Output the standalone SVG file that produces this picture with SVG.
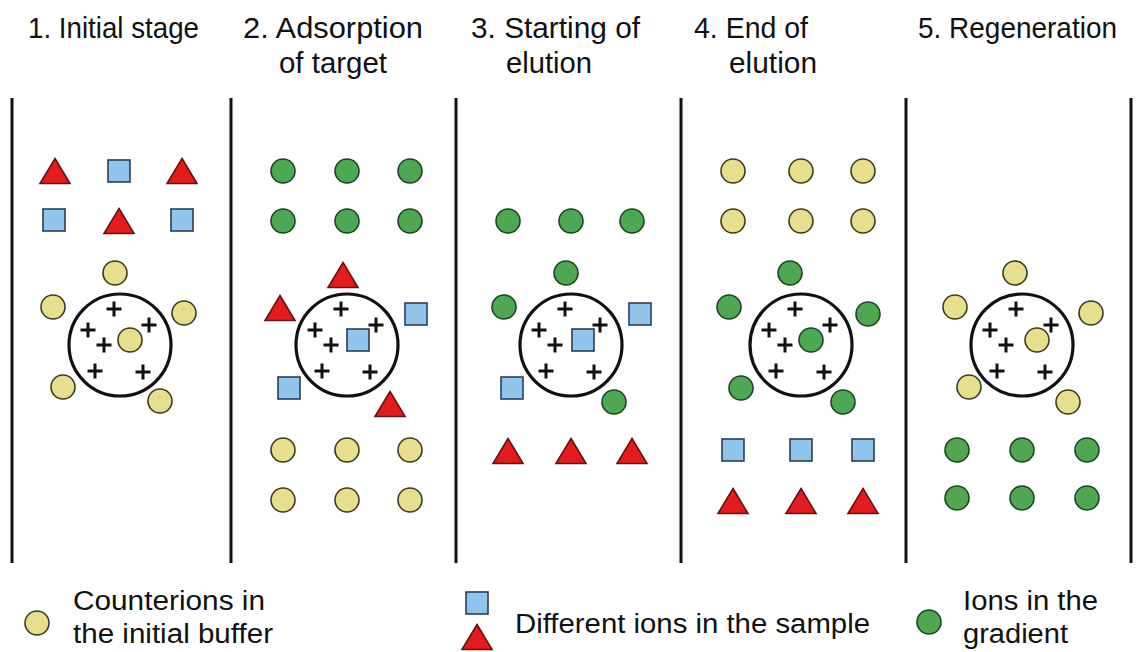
<svg xmlns="http://www.w3.org/2000/svg" xmlns:xlink="http://www.w3.org/1999/xlink" width="1137" height="652" viewBox="0 0 1137 652">
  <style>
    .label { font-family: "Liberation Sans", Arial, sans-serif; font-size: 29px; fill: #111; }
    .legend { font-family: "Liberation Sans", Arial, sans-serif; font-size: 27px; fill: #111; }
    .divider { stroke: #111; stroke-width: 3; fill: none; }
    .bead { fill: #fff; stroke: #111; stroke-width: 3.2; }
    .plus { stroke: #111; stroke-width: 3; fill: none; }
    .yel { fill: #e8df8e; stroke: #3b3a1e; stroke-width: 1.6; }
    .grn { fill: #4ea852; stroke: #1d4322; stroke-width: 1.6; }
    .sq { fill: #8fc4ed; stroke: #2c3e55; stroke-width: 1.6; }
    .tri { fill: #e41b1d; stroke: #6a1010; stroke-width: 1.6; stroke-linejoin: miter; }
  </style>
  <defs>
    <circle id="cy" class="yel" cx="0" cy="0" r="12"/>
    <circle id="cg" class="grn" cx="0" cy="0" r="12"/>
    <rect id="sq" class="sq" x="-11" y="-11" width="22" height="22"/>
    <polygon id="tri" class="tri" points="0,-12.5 15,12.5 -15,12.5"/>
    <path id="pl" class="plus" d="M-7.5,0 H7.5 M0,-7.5 V7.5"/>
    <!-- resin bead with fixed positive charges -->
    <g id="bead">
      <circle class="bead" cx="0" cy="0" r="51"/>
      <use href="#pl" x="-6" y="-36"/>
      <use href="#pl" x="-32" y="-15"/>
      <use href="#pl" x="29" y="-20"/>
      <use href="#pl" x="-16" y="0"/>
      <use href="#pl" x="-25" y="26"/>
      <use href="#pl" x="23" y="27"/>
    </g>
  </defs>

  <rect width="1137" height="652" fill="#fff"/>

  <!-- stage titles -->
  <g id="titles">
    <text class="label" x="28" y="38" textLength="171" lengthAdjust="spacingAndGlyphs">1. Initial stage</text>
    <text class="label" x="243" y="38" textLength="180" lengthAdjust="spacingAndGlyphs">2.  Adsorption</text>
    <text class="label" x="279" y="73" textLength="108" lengthAdjust="spacingAndGlyphs">of target</text>
    <text class="label" x="471" y="38" textLength="169" lengthAdjust="spacingAndGlyphs">3.  Starting of</text>
    <text class="label" x="506" y="73" textLength="86" lengthAdjust="spacingAndGlyphs">elution</text>
    <text class="label" x="694" y="38" textLength="114" lengthAdjust="spacingAndGlyphs">4.  End of</text>
    <text class="label" x="729" y="73" textLength="88" lengthAdjust="spacingAndGlyphs">elution</text>
    <text class="label" x="918" y="38" textLength="199" lengthAdjust="spacingAndGlyphs">5. Regeneration</text>
  </g>

  <!-- column dividers -->
  <g id="connectors">
    <line class="divider" x1="12" y1="98" x2="12" y2="563"/>
    <line class="divider" x1="231" y1="98" x2="231" y2="563"/>
    <line class="divider" x1="456" y1="98" x2="456" y2="563"/>
    <line class="divider" x1="681" y1="98" x2="681" y2="563"/>
    <line class="divider" x1="906" y1="98" x2="906" y2="563"/>
    <line class="divider" x1="1131" y1="98" x2="1131" y2="563"/>
  </g>

  <!-- stage 1: initial stage -->
  <g id="stage1">
    <use href="#tri" x="55" y="171"/>
    <use href="#sq" x="119" y="171"/>
    <use href="#tri" x="182" y="171"/>
    <use href="#sq" x="54" y="220"/>
    <use href="#tri" x="119" y="221"/>
    <use href="#sq" x="182" y="220"/>
    <use href="#bead" x="120" y="345"/>
    <use href="#cy" x="130" y="340"/>
    <use href="#cy" x="115" y="273"/>
    <use href="#cy" x="53" y="307"/>
    <use href="#cy" x="184" y="313"/>
    <use href="#cy" x="63" y="387"/>
    <use href="#cy" x="160" y="401"/>
  </g>

  <!-- stage 2: adsorption of target -->
  <g id="stage2">
    <use href="#cg" x="283" y="171"/>
    <use href="#cg" x="347" y="171"/>
    <use href="#cg" x="410" y="171"/>
    <use href="#cg" x="283" y="221"/>
    <use href="#cg" x="347" y="221"/>
    <use href="#cg" x="410" y="221"/>
    <use href="#bead" x="347" y="345"/>
    <use href="#sq" x="358" y="340"/>
    <use href="#tri" x="343" y="275"/>
    <use href="#tri" x="280" y="308"/>
    <use href="#sq" x="416" y="314"/>
    <use href="#sq" x="289" y="388"/>
    <use href="#tri" x="390" y="404"/>
    <use href="#cy" x="283" y="450"/>
    <use href="#cy" x="347" y="450"/>
    <use href="#cy" x="410" y="450"/>
    <use href="#cy" x="283" y="500"/>
    <use href="#cy" x="347" y="500"/>
    <use href="#cy" x="410" y="500"/>
  </g>

  <!-- stage 3: starting of elution -->
  <g id="stage3">
    <use href="#cg" x="508" y="221"/>
    <use href="#cg" x="571" y="221"/>
    <use href="#cg" x="632" y="221"/>
    <use href="#bead" x="571" y="345"/>
    <use href="#sq" x="583" y="340"/>
    <use href="#cg" x="566" y="273"/>
    <use href="#cg" x="504" y="307"/>
    <use href="#sq" x="640" y="314"/>
    <use href="#sq" x="512" y="388"/>
    <use href="#cg" x="614" y="402"/>
    <use href="#tri" x="508" y="451"/>
    <use href="#tri" x="571" y="451"/>
    <use href="#tri" x="632" y="451"/>
  </g>

  <!-- stage 4: end of elution -->
  <g id="stage4">
    <use href="#cy" x="733" y="171"/>
    <use href="#cy" x="801" y="171"/>
    <use href="#cy" x="863" y="171"/>
    <use href="#cy" x="733" y="221"/>
    <use href="#cy" x="801" y="221"/>
    <use href="#cy" x="863" y="221"/>
    <use href="#bead" x="801" y="345"/>
    <use href="#cg" x="811" y="340"/>
    <use href="#cg" x="790" y="273"/>
    <use href="#cg" x="729" y="307"/>
    <use href="#cg" x="868" y="314"/>
    <use href="#cg" x="741" y="388"/>
    <use href="#cg" x="843" y="402"/>
    <use href="#sq" x="733" y="450"/>
    <use href="#sq" x="801" y="450"/>
    <use href="#sq" x="863" y="450"/>
    <use href="#tri" x="733" y="501"/>
    <use href="#tri" x="801" y="501"/>
    <use href="#tri" x="863" y="501"/>
  </g>

  <!-- stage 5: regeneration -->
  <g id="stage5">
    <use href="#bead" x="1022" y="345"/>
    <use href="#cy" x="1037" y="340"/>
    <use href="#cy" x="1015" y="273"/>
    <use href="#cy" x="955" y="307"/>
    <use href="#cy" x="1091" y="313"/>
    <use href="#cy" x="969" y="387"/>
    <use href="#cy" x="1068" y="402"/>
    <use href="#cg" x="957" y="450"/>
    <use href="#cg" x="1022" y="450"/>
    <use href="#cg" x="1087" y="450"/>
    <use href="#cg" x="957" y="498"/>
    <use href="#cg" x="1022" y="498"/>
    <use href="#cg" x="1087" y="498"/>
  </g>

  <!-- key -->
  <g id="legend-counterions">
    <use href="#cy" x="37" y="623"/>
    <text class="legend" x="73" y="610" textLength="192" lengthAdjust="spacingAndGlyphs">Counterions in</text>
    <text class="legend" x="73" y="643" textLength="200" lengthAdjust="spacingAndGlyphs">the initial buffer</text>
  </g>
  <g id="legend-sample">
    <use href="#sq" x="477" y="603"/>
    <use href="#tri" x="477" y="637"/>
    <text class="legend" x="515" y="633" textLength="355" lengthAdjust="spacingAndGlyphs">Different ions in the sample</text>
  </g>
  <g id="legend-gradient">
    <use href="#cg" x="929" y="622"/>
    <text class="legend" x="963" y="610" textLength="135" lengthAdjust="spacingAndGlyphs">Ions in the</text>
    <text class="legend" x="963" y="643" textLength="105" lengthAdjust="spacingAndGlyphs">gradient</text>
  </g>
</svg>
